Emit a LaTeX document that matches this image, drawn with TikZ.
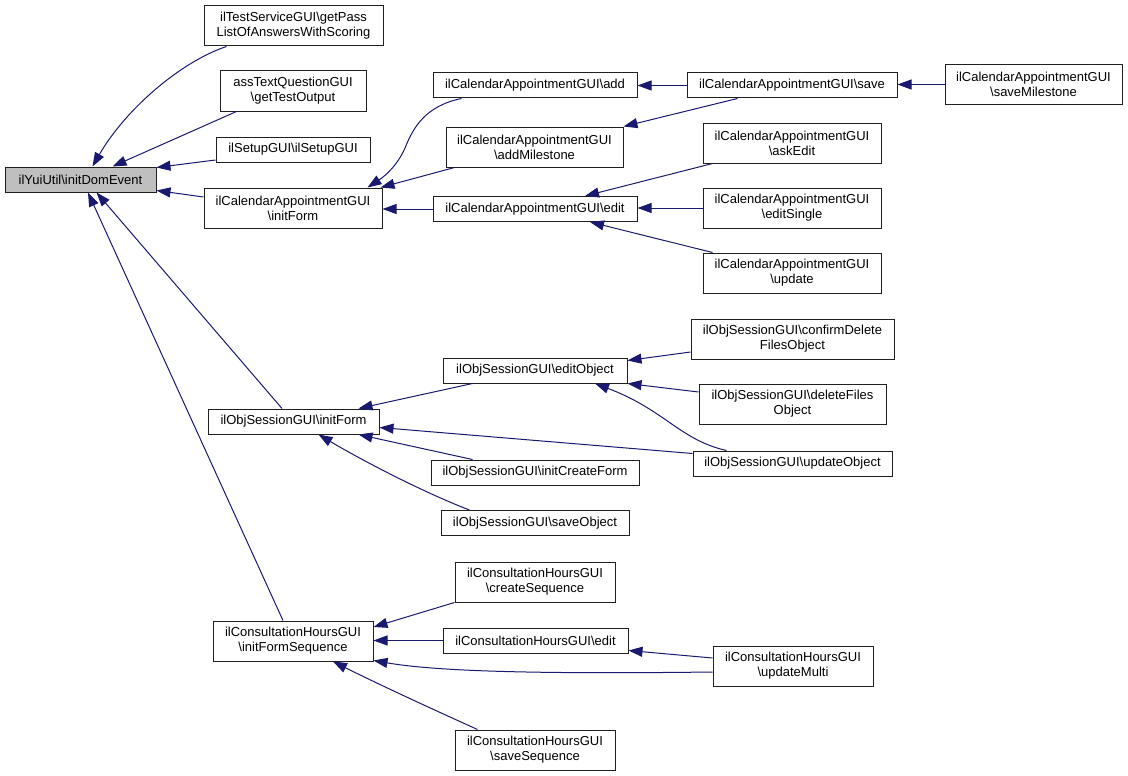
\documentclass[tikz,border=0pt]{standalone}
\usepackage{fontspec}
\setmainfont{Liberation Sans}
\usetikzlibrary{arrows.meta,calc}
\definecolor{edgecol}{HTML}{191970}
\definecolor{rootfill}{HTML}{BFBFBF}
\definecolor{boxline}{HTML}{202020}
\tikzset{
  fn/.style={draw=boxline, line width=1pt, fill=white, inner sep=0pt, align=center,
    font=\fontsize{13}{15}\selectfont},
  rootfn/.style={fn, fill=rootfill},
  call/.style={draw=edgecol, line width=1pt, -{Triangle[length=14pt,width=10pt]}},
}
\begin{document}
\begin{tikzpicture}[x=1pt,y=-1pt]
\useasboundingbox (0,0) rectangle (1128,776);
% nodes
\node[rootfn, minimum width=151, minimum height=25] (dom) at (80.5,179.5) {ilYuiUtil\textbackslash initDomEvent};
\node[fn, minimum width=179, minimum height=40] (getpass) at (293.5,26) {ilTestServiceGUI\textbackslash getPass\\ListOfAnswersWithScoring};
\node[fn, minimum width=146, minimum height=40] (asstext) at (293,91) {assTextQuestionGUI\\\textbackslash getTestOutput};
\node[fn, minimum width=154, minimum height=25] (setup) at (293,149.5) {ilSetupGUI\textbackslash ilSetupGUI};
\node[fn, minimum width=178, minimum height=40] (calinit) at (293,208) {ilCalendarAppointmentGUI\\\textbackslash initForm};
\node[fn, minimum width=204, minimum height=25] (caladd) at (535,85.5) {ilCalendarAppointmentGUI\textbackslash add};
\node[fn, minimum width=177, minimum height=40] (calms) at (534.5,147) {ilCalendarAppointmentGUI\\\textbackslash addMilestone};
\node[fn, minimum width=204, minimum height=25] (caledit) at (535,209) {ilCalendarAppointmentGUI\textbackslash edit};
\node[fn, minimum width=210, minimum height=25] (calsave) at (792,85.5) {ilCalendarAppointmentGUI\textbackslash save};
\node[fn, minimum width=177, minimum height=40] (savems) at (1033.5,84.5) {ilCalendarAppointmentGUI\\\textbackslash saveMilestone};
\node[fn, minimum width=178, minimum height=40] (askedit) at (792,143) {ilCalendarAppointmentGUI\\\textbackslash askEdit};
\node[fn, minimum width=178, minimum height=40] (editsingle) at (792,208) {ilCalendarAppointmentGUI\\\textbackslash editSingle};
\node[fn, minimum width=178, minimum height=40] (update) at (792,273) {ilCalendarAppointmentGUI\\\textbackslash update};
\node[fn, minimum width=171, minimum height=25] (objinit) at (293.5,421.5) {ilObjSessionGUI\textbackslash initForm};
\node[fn, minimum width=184, minimum height=25] (editobj) at (535,370.5) {ilObjSessionGUI\textbackslash editObject};
\node[fn, minimum width=203, minimum height=40] (confirm) at (792.5,339) {ilObjSessionGUI\textbackslash confirmDelete\\FilesObject};
\node[fn, minimum width=187, minimum height=40] (delfiles) at (792.5,404) {ilObjSessionGUI\textbackslash deleteFiles\\Object};
\node[fn, minimum width=199, minimum height=25] (updobj) at (792.5,463.5) {ilObjSessionGUI\textbackslash updateObject};
\node[fn, minimum width=208, minimum height=25] (initcreate) at (535,472.5) {ilObjSessionGUI\textbackslash initCreateForm};
\node[fn, minimum width=188, minimum height=25] (saveobj) at (535,523) {ilObjSessionGUI\textbackslash saveObject};
\node[fn, minimum width=160, minimum height=40] (initseq) at (293,641) {ilConsultationHoursGUI\\\textbackslash initFormSequence};
\node[fn, minimum width=160, minimum height=40] (createseq) at (535,582) {ilConsultationHoursGUI\\\textbackslash createSequence};
\node[fn, minimum width=185, minimum height=25] (consedit) at (535.5,640.5) {ilConsultationHoursGUI\textbackslash edit};
\node[fn, minimum width=160, minimum height=40] (saveseq) at (535,750) {ilConsultationHoursGUI\\\textbackslash saveSequence};
\node[fn, minimum width=160, minimum height=40] (updmulti) at (793,666) {ilConsultationHoursGUI\\\textbackslash updateMulti};
% edges
\draw[call] ([xshift=23]getpass.south west) .. controls (180,62) and (125,110) .. ([xshift=12]dom.north);
\draw[call] ([xshift=17]asstext.south west) -- ([xshift=32]dom.north);
\draw[call] ([yshift=-10.5]setup.west) -- ([yshift=-1]dom.north east);
\draw[call] ([yshift=11]calinit.west) -- ([yshift=2]dom.south east);
\draw[call] ([xshift=-11.5]objinit.north) -- ([xshift=16]dom.south);
\draw[call] ([xshift=-10]initseq.north) -- ([xshift=7.5]dom.south);
\draw[call] ([xshift=29]caladd.south west) .. controls (425,106) and (413,128) .. (405,148) .. controls (397,166) and (385,176) .. ([xshift=-15]calinit.north east);
\draw[call] ([xshift=9]calms.south west) -- ([xshift=-2]calinit.north east);
\draw[call] (caledit.west) -- (caledit.west -| calinit.east);
\draw[call] (calsave.west) -- (caladd.east);
\draw[call] ([xshift=51]calsave.south west) -- (calms.north east);
\draw[call] (savems.west) -- (savems.west -| calsave.east);
\draw[call] ([xshift=10]askedit.south west) -- ([xshift=50]caledit.north);
\draw[call] (editsingle.west) -- (editsingle.west -| caledit.east);
\draw[call] ([xshift=10]update.north west) -- ([xshift=55]caledit.south);
\draw[call] ([xshift=30]editobj.south west) -- ([xshift=-21]objinit.north east);
\draw[call] ([yshift=10]updobj.west) -- ([yshift=-6]objinit.east);
\draw[call] ([xshift=42]initcreate.north west) -- ([xshift=-21]objinit.south east);
\draw[call] ([xshift=29]saveobj.north west) .. controls (430,495) and (370,465) .. ([xshift=25]objinit.south);
\draw[call] ([yshift=-13]confirm.west) -- ([yshift=-3]editobj.north east);
\draw[call] ([yshift=12]delfiles.west) -- (editobj.south east);
\draw[call] ([xshift=34]updobj.north west) .. controls (680,440) and (665,410) .. ([xshift=60]editobj.south);
\draw[call] (createseq.south west) -- ([yshift=14]initseq.east);
\draw[call] (consedit.west) -- (consedit.west -| initseq.east);
\draw[call] ([yshift=-6]updmulti.west) .. controls (550,674) and (440,672) .. ([yshift=1]initseq.south east);
\draw[call] ([xshift=23]saveseq.north west) .. controls (430,708) and (380,685) .. ([xshift=40]initseq.south);
\draw[call] ([yshift=8]updmulti.west) -- ([yshift=3]consedit.south east);
\end{tikzpicture}
\end{document}
